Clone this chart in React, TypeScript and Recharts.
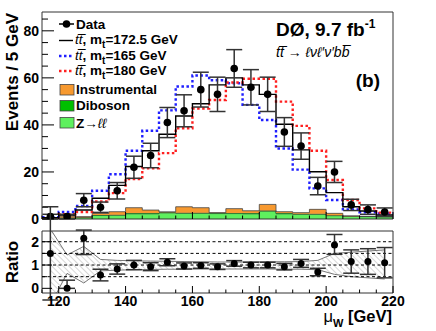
import React from "react";
import {
  ComposedChart,
  Line,
  Area,
  Scatter,
  ErrorBar,
  XAxis,
  YAxis,
  ReferenceArea,
  ReferenceLine,
} from "recharts";

// bin centres, 5 GeV bins
const binCenters = [
  117.5, 122.5, 127.5, 132.5, 137.5, 142.5, 147.5, 152.5, 157.5, 162.5, 167.5,
  172.5, 177.5, 182.5, 187.5, 192.5, 197.5, 202.5, 207.5, 212.5, 217.5,
];
const binHalf = 2.5;

const dataCounts = [1, 1, 8, 5, 12, 22, 27, 41, 46, 55, 53, 64, 56, 53, 37, 31, 14, 20, 6, 4, 3];
const dataErr = [1, 1, 2.8, 2.2, 3.5, 4.7, 5.2, 6.4, 6.8, 7.4, 7.3, 8, 7.5, 7.3, 6.1, 5.6, 3.7, 4.5, 2.4, 2, 1.7];

const tt1725 = [0.5, 1.7, 3.8, 8.8, 14.3, 22.3, 29, 36, 43.8, 49, 57, 60, 57, 53, 40.3, 29.4, 20.1, 11.2, 5.2, 3.4, 1.7];
const tt165 = [0.8, 3, 5.5, 12, 19, 29, 37.5, 46.2, 56.3, 61, 59, 57.7, 48.5, 42.1, 30, 21, 13, 8.1, 4.1, 2.9, 2.4];
const tt180 = [0.3, 2, 3, 7.5, 11, 17, 21.6, 28, 38.6, 47, 50.6, 58, 59.6, 59.6, 49.9, 39.6, 29, 16.6, 8.1, 4.5, 2.7];

const zll = [0.2, 0.5, 0.6, 1.5, 1.6, 2.2, 2.2, 2.6, 2.4, 2.4, 2.3, 2.3, 2.2, 3.3, 2.2, 2.0, 2.0, 1.4, 1.1, 1.0, 0.9];
const diboson = [0.05, 0.1, 0.1, 0.2, 0.2, 0.3, 0.3, 0.3, 0.3, 0.3, 0.3, 0.3, 0.3, 0.3, 0.3, 0.2, 0.2, 0.2, 0.1, 0.1, 0.1];
const instrumental = [0.15, 0.6, 0.3, 0.7, 1.3, 2.3, 1.3, 0.1, 2.5, 2.1, 0.05, 1.8, 1.0, 2.6, 0.6, 0.5, 1.9, 0.8, 0.1, 0, 0];

const ratio = [1.5, 0, 2.15, 0.57, 0.83, 1.0, 0.93, 1.12, 0.96, 0.98, 0.93, 1.07, 1.0, 1.0, 0.93, 1.07, 0.7, 1.86, 1.15, 1.15, 1.1];
const ratioErr: [number, number][] = [
  [2, 2], [0, 0.35], [0.7, 0.35], [0.25, 0.25], [0.22, 0.22], [0.2, 0.2], [0.17, 0.17],
  [0.15, 0.15], [0.13, 0.13], [0.12, 0.12], [0.12, 0.12], [0.12, 0.12], [0.12, 0.12],
  [0.12, 0.12], [0.14, 0.14], [0.17, 0.17], [0.16, 0.16], [0.4, 0.45], [0.5, 0.5],
  [0.55, 0.55], [0.65, 0.65],
];
const bandLow = [-0.71, 0.64, 0.23, 0.75, 0.78, 0.8, 0.81, 0.82, 0.82, 0.83, 0.83, 0.83, 0.83, 0.83, 0.82, 0.82, 0.8, 0.6, 0.5, 0.45, 0.4];
const bandHigh = [2.55, 1.43, 1.8, 1.24, 1.2, 1.18, 1.17, 1.16, 1.15, 1.14, 1.13, 1.13, 1.13, 1.14, 1.14, 1.15, 1.2, 1.5, 1.55, 1.6, 1.65];

const xTicks = [115, 120, 125, 130, 135, 140, 145, 150, 155, 160, 165, 170, 175, 180, 185, 190, 195, 200, 205, 210, 215, 220];
const yTicks = [0, 5, 10, 15, 20, 25, 30, 35, 40, 45, 50, 55, 60, 65, 70, 75, 80, 85];
const ratioTicks = [0, 0.5, 1, 1.5, 2];
const ratioLines = [0.5, 1, 1.5, 2];

const FONT = "'Liberation Sans', Arial, Helvetica, sans-serif";
const BLUE = "#1f1fff";
const RED = "#ff2020";

// step table: one row per bin low edge plus the closing edge
const stepRows = binCenters.map((c, i) => ({
  x: c - binHalf,
  black: tt1725[i],
  blue: tt165[i],
  red: tt180[i],
  z: zll[i],
  dib: diboson[i],
  inst: instrumental[i],
}));
const lastIdx = binCenters.length - 1;
stepRows.push({ ...stepRows[lastIdx], x: binCenters[lastIdx] + binHalf });

const pointRows = binCenters.map((c, i) => ({ x: c, y: dataCounts[i], err: dataErr[i] }));
const ratioRows = binCenters.map((c, i) => ({
  x: c,
  r: ratio[i],
  err: ratioErr[i],
  band: [bandLow[i], bandHigh[i]],
}));

const makeYTick = (isMajor: (v: number) => boolean, majorLen: number, minorLen: number) => (props: any) => {
  const { x, y, payload } = props;
  const v = payload.value;
  const major = isMajor(v);
  return (
    <g>
      <line x1={x} x2={x + (major ? majorLen : minorLen)} y1={y} y2={y} stroke="#000" />
      {major && (
        <text x={x - 3} y={y + 5} textAnchor="end" fontSize={14} fontWeight="bold" fontFamily={FONT} fill="#000">
          {v}
        </text>
      )}
    </g>
  );
};

const makeXTick = (showLabel: boolean) => (props: any) => {
  const { x, y, payload } = props;
  const v = payload.value;
  const major = v % 20 === 0;
  return (
    <g>
      <line x1={x} x2={x} y1={y} y2={y - (major ? 7 : 3.5)} stroke="#000" />
      {showLabel && major && (
        <text x={x} y={y + 12.5} textAnchor="middle" fontSize={14} fontWeight="bold" fontFamily={FONT} fill="#000">
          {v}
        </text>
      )}
    </g>
  );
};

const dataDot = (p: any) => <circle cx={p.cx} cy={p.cy} r={3.8} fill="#000" />;
const ratioDot = (p: any) => <circle cx={p.cx} cy={p.cy} r={3.5} fill="#000" />;

function TopPanel() {
  return (
    <ComposedChart width={436} height={232} data={stepRows} margin={{ top: 12, right: 43, bottom: 0, left: 0 }}>
      <XAxis
        dataKey="x"
        type="number"
        domain={[115, 220]}
        ticks={xTicks}
        interval={0}
        allowDataOverflow
        height={13}
        tickSize={0}
        tickMargin={0}
        axisLine={false}
        tickLine={false}
        tick={makeXTick(false)}
      />
      <YAxis
        type="number"
        domain={[0, 88]}
        ticks={yTicks}
        interval={0}
        allowDataOverflow
        width={42}
        tickSize={0}
        tickMargin={0}
        axisLine={false}
        tickLine={false}
        tick={makeYTick((v) => v % 20 === 0, 12, 6)}
      />
      <Area type="stepAfter" dataKey="z" stackId="bg" fill="#5ef05e" stroke="#444" strokeWidth={0.8} fillOpacity={1} isAnimationActive={false} />
      <Area type="stepAfter" dataKey="dib" stackId="bg" fill="#00c000" stroke="#444" strokeWidth={0.8} fillOpacity={1} isAnimationActive={false} />
      <Area type="stepAfter" dataKey="inst" stackId="bg" fill="#f7992f" stroke="#444" strokeWidth={0.8} fillOpacity={1} isAnimationActive={false} />
      <Line type="stepAfter" dataKey="blue" stroke={BLUE} strokeWidth={2.4} strokeDasharray="2.5 2.5" dot={false} isAnimationActive={false} />
      <Line type="stepAfter" dataKey="red" stroke={RED} strokeWidth={2.4} strokeDasharray="2.5 2.5" dot={false} isAnimationActive={false} />
      <Line type="stepAfter" dataKey="black" stroke="#000" strokeWidth={1.4} dot={false} isAnimationActive={false} />
      <Scatter data={pointRows} dataKey="y" shape={dataDot} isAnimationActive={false}>
        <ErrorBar dataKey="err" direction="y" width={8} stroke="#333" strokeWidth={1.5} />
      </Scatter>
      <ReferenceArea x1={115} x2={220} y1={0} y2={88} fill="none" stroke="#333" strokeWidth={1} ifOverflow="visible" />
    </ComposedChart>
  );
}

function RatioPanel() {
  return (
    <ComposedChart width={436} height={331} data={ratioRows} margin={{ top: 231, right: 43, bottom: 0, left: 0 }}>
      <defs>
        <pattern id="hatch" patternUnits="userSpaceOnUse" width="4" height="4" patternTransform="rotate(-45)">
          <line x1="0" y1="0" x2="0" y2="4" stroke="#9a9a9a" strokeWidth="0.8" />
        </pattern>
      </defs>
      <XAxis
        dataKey="x"
        type="number"
        domain={[115, 220]}
        ticks={xTicks}
        interval={0}
        allowDataOverflow
        height={38}
        tickSize={0}
        tickMargin={0}
        axisLine={false}
        tickLine={false}
        tick={makeXTick(true)}
      />
      <YAxis
        type="number"
        domain={[-0.2, 2.46]}
        ticks={ratioTicks}
        interval={0}
        allowDataOverflow
        width={42}
        tickSize={0}
        tickMargin={0}
        axisLine={false}
        tickLine={false}
        tick={makeYTick((v) => Number.isInteger(v), 10, 5)}
      />
      {ratioLines.map((v) => (
        <ReferenceLine key={v} y={v} stroke="#000" strokeDasharray="3 2.5" strokeWidth={1} />
      ))}
      <Area type="linear" dataKey="band" fill="url(#hatch)" fillOpacity={1} stroke="#666" strokeWidth={0.9} isAnimationActive={false} />
      <Scatter data={ratioRows} dataKey="r" shape={ratioDot} isAnimationActive={false}>
        <ErrorBar dataKey="err" direction="y" width={8} stroke="#333" strokeWidth={1.5} />
      </Scatter>
      <ReferenceArea x1={115} x2={220} y1={-0.2} y2={2.46} fill="none" stroke="#333" strokeWidth={1} ifOverflow="visible" />
    </ComposedChart>
  );
}

function Overlay() {
  const txt = { fontFamily: FONT, fontSize: 13.5, fontWeight: "bold" as const, fill: "#000" };
  const tt = (
    <tspan fontStyle="italic" fontWeight="normal">
      t{"t\u0305"}
    </tspan>
  );
  return (
    <svg width={436} height={331} style={{ position: "absolute", left: 0, top: 0, pointerEvents: "none" }}>
      {/* legend */}
      <line x1={59} x2={74} y1={24} y2={24} stroke="#000" strokeWidth={1.5} />
      <circle cx={66.5} cy={24} r={3.8} fill="#000" />
      <text x={76} y={28.5} {...txt}>Data</text>

      <line x1={59} x2={73} y1={40.5} y2={40.5} stroke="#000" strokeWidth={1.4} />
      <text x={75} y={44} {...txt}>
        {tt}, m<tspan dy={4} fontSize={10}>t</tspan><tspan dy={-4}>=172.5 GeV</tspan>
      </text>

      <line x1={59} x2={74} y1={56} y2={56} stroke={BLUE} strokeWidth={2.4} strokeDasharray="2.5 2.5" />
      <text x={75} y={59.5} {...txt}>
        {tt}, m<tspan dy={4} fontSize={10}>t</tspan><tspan dy={-4}>=165 GeV</tspan>
      </text>

      <line x1={59} x2={74} y1={71} y2={71} stroke={RED} strokeWidth={2.4} strokeDasharray="2.5 2.5" />
      <text x={75} y={75} {...txt}>
        {tt}, m<tspan dy={4} fontSize={10}>t</tspan><tspan dy={-4}>=180 GeV</tspan>
      </text>

      <rect x={60} y={84.5} width={14} height={10.5} fill="#f7992f" stroke="#444" strokeWidth={0.8} />
      <text x={76} y={94} {...txt}>Instrumental</text>
      <rect x={60} y={100.5} width={14} height={10.5} fill="#00c000" stroke="#444" strokeWidth={0.8} />
      <text x={76} y={110} {...txt}>Diboson</text>
      <rect x={60} y={117.5} width={14} height={10.5} fill="#5ef05e" stroke="#444" strokeWidth={0.8} />
      <text x={76} y={128} {...txt}>
        Z<tspan fontWeight="normal">{"\u2192"}</tspan>
        <tspan fontStyle="italic" fontWeight="normal">{"\u2113\u2113"}</tspan>
      </text>

      {/* top-right labels */}
      <text x={276} y={36} fontFamily={FONT} fontSize={19} fontWeight="bold" fill="#000">
        DØ, 9.7 fb<tspan dy={-8} fontSize={12}>-1</tspan>
      </text>
      <text x={276} y={57} fontFamily={FONT} fontSize={14} fontStyle="italic" fill="#000">
        t{"t\u0305"} {"\u2192"} {"\u2113\u03BD\u2113\u2032\u03BD\u2032b"}{"b\u0305"}
      </text>
      <text x={380} y={87} textAnchor="end" fontFamily={FONT} fontSize={19} fontWeight="bold" fill="#000">
        (b)
      </text>

      {/* axis titles */}
      <text
        x={18}
        y={13}
        transform="rotate(-90 18 13)"
        textAnchor="end"
        fontFamily={FONT}
        fontSize={17}
        fontWeight="bold"
        fill="#000"
      >
        Events / 5 GeV
      </text>
      <text
        x={18}
        y={262}
        transform="rotate(-90 18 262)"
        textAnchor="middle"
        fontFamily={FONT}
        fontSize={17}
        fontWeight="bold"
        fill="#000"
      >
        Ratio
      </text>
      <text x={392} y={322} textAnchor="end" fontFamily={FONT} fontSize={16.5} fontWeight="bold" fill="#000">
        <tspan fontWeight="normal">{"\u03BC"}</tspan>
        <tspan dy={5} fontSize={11}>W</tspan>
        <tspan dy={-5}> [GeV]</tspan>
      </text>
    </svg>
  );
}

export default function App() {
  return (
    <div style={{ position: "absolute", left: 0, top: 0, width: 436, height: 331, background: "#fff" }}>
      <div style={{ position: "absolute", left: 0, top: 0 }}>
        <TopPanel />
      </div>
      <div style={{ position: "absolute", left: 0, top: 0 }}>
        <RatioPanel />
      </div>
      <Overlay />
    </div>
  );
}
